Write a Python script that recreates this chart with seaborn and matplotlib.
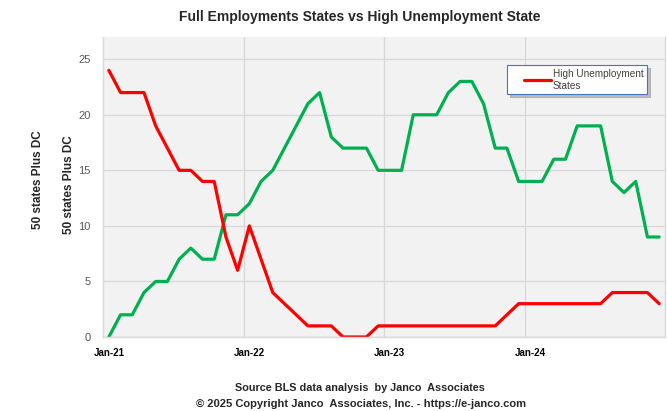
import matplotlib
matplotlib.use("Agg")
import matplotlib.pyplot as plt
from matplotlib.lines import Line2D
from matplotlib.legend_handler import HandlerLine2D
import seaborn as sns
import pandas as pd

# Monthly data Jan-21 .. Dec-24
full_employment = [0, 2, 2, 4, 5, 5, 7, 8, 7, 7, 11, 11,
                   12, 14, 15, 17, 19, 21, 22, 18, 17, 17, 17, 15,
                   15, 15, 20, 20, 20, 22, 23, 23, 21, 17, 17, 14,
                   14, 14, 16, 16, 19, 19, 19, 14, 13, 14, 9, 9]
high_unemployment = [24, 22, 22, 22, 19, 17, 15, 15, 14, 14, 9, 6,
                     10, 7, 4, 3, 2, 1, 1, 1, 0, 0, 0, 1,
                     1, 1, 1, 1, 1, 1, 1, 1, 1, 1, 2, 3,
                     3, 3, 3, 3, 3, 3, 3, 4, 4, 4, 4, 3]
tick_labels = ["Jan-21", "Jan-22", "Jan-23", "Jan-24"]
y_ticks = [0, 5, 10, 15, 20, 25]

n = len(full_employment)
df = pd.DataFrame({
    "month": list(range(n)) * 2,
    "value": full_employment + high_unemployment,
    "series": ["Full Employment States"] * n + ["High Unemployment States"] * n,
})

sns.set_theme(style="white")
plt.rcParams["font.family"] = ["Liberation Sans", "DejaVu Sans"]

fig = plt.figure(figsize=(6.67, 4.11), dpi=100)
ax = fig.add_axes([103 / 667, 1 - 337 / 411, 562 / 667, 300 / 411])
ax.set_facecolor("#F2F2F2")

sns.lineplot(data=df, x="month", y="value", hue="series",
             palette={"Full Employment States": "#00B050",
                      "High Unemployment States": "#FF0000"},
             linewidth=2.3, ax=ax, legend=False)

ax.set_xlim(-0.5, n - 0.5)
ax.set_ylim(0, 27)
ax.set_xticks([0, 12, 24, 36])
ax.set_xticklabels(tick_labels, fontsize=7, fontweight="bold", color="#000000")
ax.set_xticks([11.5, 23.5, 35.5], minor=True)
ax.set_yticks(y_ticks)
ax.set_yticklabels([str(v) for v in y_ticks], fontsize=8, color="#595959")
ax.tick_params(axis="x", which="major", length=0, pad=8)
ax.tick_params(axis="x", which="minor", length=0)
ax.tick_params(axis="y", length=0, pad=9)
ax.grid(False)
ax.grid(axis="y", which="major", color="#D9D9D9", linewidth=1)
ax.grid(axis="x", which="minor", color="#D9D9D9", linewidth=1)
ax.set_xlabel("")
ax.set_ylabel("")
for side in ["left", "bottom", "right"]:
    ax.spines[side].set_color("#D9D9D9")
    ax.spines[side].set_linewidth(1)
ax.spines["top"].set_visible(False)

handle = Line2D([0], [0], color="#FF0000", linewidth=2.3)
leg = ax.legend([handle], ["High Unemployment\nStates"], loc="upper left",
                bbox_to_anchor=(0.719, 0.905), fontsize=7.2, frameon=True,
                shadow={"color": "#9A9A9A", "alpha": 0.6}, fancybox=False,
                borderpad=0.35, handlelength=4.0, handletextpad=0.2,
                borderaxespad=0, labelcolor="#404040",
                handler_map={Line2D: HandlerLine2D(xpad=1.3)})
leg.get_frame().set_edgecolor("#4472C4")
leg.get_frame().set_linewidth(0.8)
for t in leg.get_texts():
    t.set_ha("left")

fig.text(360 / 667, 1 - 17 / 411, "Full Employments States vs High Unemployment State",
         ha="center", va="center", fontsize=10, fontweight="bold")
fig.text(38 / 667, 1 - 180 / 411, "50 states Plus DC", rotation=90,
         ha="center", va="center", fontsize=8.5, fontweight="bold")
fig.text(69 / 667, 1 - 185 / 411, "50 states Plus DC", rotation=90,
         ha="center", va="center", fontsize=8.5, fontweight="bold")
fig.text(360 / 667, 1 - 388 / 411, "Source BLS data analysis  by Janco  Associates",
         ha="center", va="center", fontsize=7.8, fontweight="bold")
fig.text(361 / 667, 1 - 404 / 411,
         "\u00a9 2025 Copyright Janco  Associates, Inc. - https://e-janco.com",
         ha="center", va="center", fontsize=8, fontweight="bold")

fig.savefig("out.png", dpi=100, facecolor="white")
